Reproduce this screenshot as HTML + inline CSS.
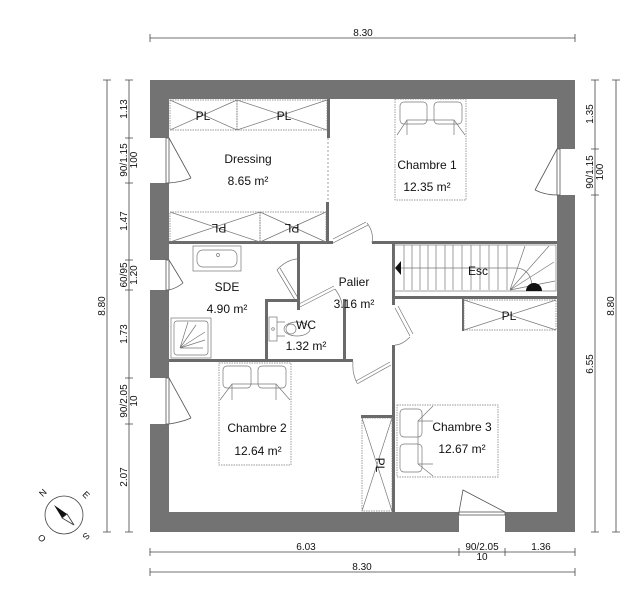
<!DOCTYPE html>
<html><head><meta charset="utf-8"><style>
html,body{margin:0;padding:0;background:#fff;width:644px;height:600px;overflow:hidden}
svg{display:block}
text{font-family:"Liberation Sans",sans-serif;fill:#111}
</style></head><body>
<svg width="644" height="600" viewBox="0 0 644 600" xmlns="http://www.w3.org/2000/svg">
<path fill="#737373" fill-rule="evenodd" d="M150 80H575V532H150Z M169 99V512H557V99Z"/>
<g fill="#fff">
<rect x="149" y="138" width="21" height="45"/>
<rect x="149" y="260" width="21" height="30"/>
<rect x="149" y="378" width="21" height="46"/>
<rect x="556" y="149" width="20" height="46"/>
<rect x="459" y="511" width="46" height="22"/>
</g>
<g fill="none" stroke="#555" stroke-width="0.8">
<rect x="166" y="138" width="3" height="45"/><path d="M169 138L191 178M169 183Q182 182 191 178"/>
<rect x="166" y="260" width="3" height="30"/><path d="M169 260L183 283M169 290Q177 288 183 283"/>
<rect x="166" y="378" width="3" height="46"/><path d="M169 378L191 418M169 424Q182 422 191 418"/>
<rect x="557" y="149" width="3" height="46"/><path d="M557 149L535 190M557 195Q545 195 535 190"/>
<rect x="459" y="512" width="46" height="3"/><path d="M459 512L463 490L505 512"/>
</g>
<g fill="#6a6a6a">
<rect x="169" y="241" width="164" height="3"/>
<rect x="372" y="241" width="185" height="3"/>
<rect x="327" y="99" width="3" height="39"/>
<rect x="326" y="202" width="3" height="41"/>
<rect x="297" y="243" width="3" height="67"/>
<rect x="265" y="299" width="3" height="62"/>
<rect x="265" y="299" width="33" height="3"/>
<rect x="343" y="299" width="3" height="62"/>
<rect x="169" y="359" width="184" height="3"/>
<rect x="392" y="243" width="3" height="62"/>
<rect x="392" y="345" width="3" height="167"/>
<rect x="392" y="296" width="165" height="3"/>
<rect x="361" y="415" width="32" height="3"/>
<rect x="462" y="299" width="2" height="32"/>
</g>
<g fill="none" stroke="#777" stroke-width="0.7">
<path d="M328 138V202" stroke-dasharray="2 2"/>
<rect x="170" y="100" width="67" height="30" stroke-dasharray="1.5 1"/>
<rect x="237" y="100" width="90" height="30" stroke-dasharray="1.5 1"/>
<path d="M170 100L237 130M170 130L237 100M237 100L327 130M237 130L327 100"/>
<rect x="170" y="212" width="90" height="30" stroke-dasharray="1.5 1"/>
<rect x="260" y="212" width="66" height="30" stroke-dasharray="1.5 1"/>
<path d="M170 212L260 242M170 242L260 212M260 212L326 242M260 242L326 212"/>
<rect x="464" y="300" width="92" height="30" stroke-dasharray="1.5 1"/>
<path d="M464 300L556 330M464 330L556 300"/>
<rect x="362" y="418" width="30" height="93" stroke-dasharray="1.5 1"/>
<path d="M362 418L392 511M392 418L362 511"/>
<rect x="395" y="99" width="71" height="101" stroke-dasharray="1.5 1"/>
<rect x="400" y="102" width="27" height="22" rx="4"/><rect x="434" y="102" width="28" height="22" rx="4"/>
<path d="M397 135L407 120H454L465 135M407 120V135M454 120V135"/>
<rect x="219" y="363" width="72" height="102" stroke-dasharray="1.5 1"/>
<rect x="223" y="366" width="28" height="22" rx="4"/><rect x="258" y="366" width="28" height="22" rx="4"/>
<path d="M220 400L232 384H276L290 400M232 384V400M276 384V400"/>
<rect x="397" y="405" width="101" height="72" stroke-dasharray="1.5 1"/>
<rect x="400" y="409" width="22" height="28" rx="4"/><rect x="400" y="444" width="22" height="28" rx="4"/>
<path d="M433 406L418 421V464L433 476M418 421H433M418 464H433"/>
<rect x="193" y="246" width="48" height="25"/><rect x="197" y="250" width="40" height="17" rx="6"/>
<circle cx="218" cy="255" r="1.5"/>
<rect x="171" y="318" width="40" height="40"/><rect x="174" y="321" width="34" height="34" rx="3"/>
<path d="M180 348L188 322M180 348L196 325M180 348L205 332M180 348L205 340M180 348L203 348"/>
<rect x="269" y="317" width="8" height="24"/><path d="M277 322H285M277 336H285"/>
<ellipse cx="297" cy="329" rx="13" ry="7"/><ellipse cx="291" cy="329" rx="5" ry="5"/>
<circle cx="273" cy="329" r="1.3"/>
<path d="M333 239L366 222M333 243L368 225" stroke="#666"/><path d="M367 223Q374 232 372 243"/>
<path d="M277 270L295 300M280 268L298 298" stroke="#666"/><path d="M277 270Q286 260 297 259"/>
<path d="M299 304L334 286M300 307L335 289"/><path d="M335 289Q343 300 342 308"/>
<path d="M395 308L410 336M398 306L413 334"/><path d="M410 337Q402 345 395 345"/>
<path d="M356 381L390 362M357 384L391 365"/><path d="M357 383Q352 373 353 362"/>
<rect x="394" y="245" width="162" height="46"/>
<path d="M404 245V290M412 245V290M420 245V290M428 245V290M436 245V290M445 245V290M453 245V290M462 245V290M471 245V290M480 245V290M489 245V290M498 245V290M507 245V290"/>
<path d="M510 290L525 246M510 290L549 246M510 290L554 262M510 290L555 281"/>
<path d="M400 268H515Q530 268 532 285"/>
</g>
<path d="M395 268L401 261V275Z" fill="#111"/>
<path d="M526 291A8 8 0 0 1 542 291Z" fill="#111"/>
<g font-size="12" text-anchor="middle">
<text x="203" y="120">PL</text><text x="284" y="120">PL</text>
<text x="219" y="224" transform="rotate(180 219 224)">PL</text>
<text x="292" y="224" transform="rotate(180 292 224)">PL</text>
<text x="509" y="320">PL</text>
<text x="376" y="465" transform="rotate(90 376 465)">PL</text>
<text x="248" y="163">Dressing</text><text x="248" y="185">8.65 m²</text>
<text x="427" y="169">Chambre 1</text><text x="427" y="191">12.35 m²</text>
<text x="227" y="291">SDE</text><text x="227" y="313">4.90 m²</text>
<text x="354" y="286">Palier</text><text x="354" y="308">3.16 m²</text>
<text x="306" y="329">WC</text><text x="306" y="350">1.32 m²</text>
<text x="478" y="275">Esc</text>
<text x="257" y="432">Chambre 2</text><text x="258" y="455">12.64 m²</text>
<text x="462" y="431">Chambre 3</text><text x="462" y="453">12.67 m²</text>
</g>
<g stroke="#444" stroke-width="0.8" fill="none">
<path d="M150 38H575M150 34V42M575 34V42"/>
<path d="M150 552H575M150 548V556M459 548V556M505 548V556M575 548V556"/>
<path d="M150 572H575M150 568V576M575 568V576"/>
<path d="M107 80V532M103 80H111M103 532H111"/>
<path d="M129 80V532M125 80H133M125 138H133M125 183H133M125 260H133M125 290H133M125 378H133M125 424H133M125 532H133"/>
<path d="M595 80V532M591 80H599M591 149H599M591 195H599M591 532H599"/>
<path d="M616 80V532M612 80H620M612 532H620"/>
</g>
<g font-size="10" text-anchor="middle">
<text x="363" y="36">8.30</text>
<text x="306" y="550">6.03</text><text x="482" y="550">90/2.05</text><text x="482" y="560">10</text><text x="541" y="550">1.36</text>
<text x="362" y="570">8.30</text>
<text transform="translate(105 306) rotate(-90)">8.80</text>
<text transform="translate(127 109) rotate(-90)">1.13</text>
<text transform="translate(127 160) rotate(-90)">90/1.15</text><text transform="translate(137 160) rotate(-90)">100</text>
<text transform="translate(127 221) rotate(-90)">1.47</text>
<text transform="translate(127 275) rotate(-90)">60/95</text><text transform="translate(137 275) rotate(-90)">1.20</text>
<text transform="translate(127 334) rotate(-90)">1.73</text>
<text transform="translate(127 401) rotate(-90)">90/2.05</text><text transform="translate(137 401) rotate(-90)">10</text>
<text transform="translate(127 477) rotate(-90)">2.07</text>
<text transform="translate(593 114) rotate(-90)">1.35</text>
<text transform="translate(593 172) rotate(-90)">90/1.15</text><text transform="translate(603 172) rotate(-90)">100</text>
<text transform="translate(593 364) rotate(-90)">6.55</text>
<text transform="translate(614 306) rotate(-90)">8.80</text>
</g>
<circle cx="64" cy="515" r="19" fill="none" stroke="#444" stroke-width="0.8"/>
<path d="M54 505L67 514L62 518Z" fill="#111"/>
<path d="M67 514L74 525L62 518Z" fill="none" stroke="#333" stroke-width="0.8"/>
<g font-size="9" text-anchor="middle">
<text transform="translate(45 495) rotate(-45)">N</text>
<text transform="translate(84 497) rotate(45)">E</text>
<text transform="translate(44 536) rotate(-135)">O</text>
<text transform="translate(84 534) rotate(135)">S</text>
</g>
</svg>
</body></html>
